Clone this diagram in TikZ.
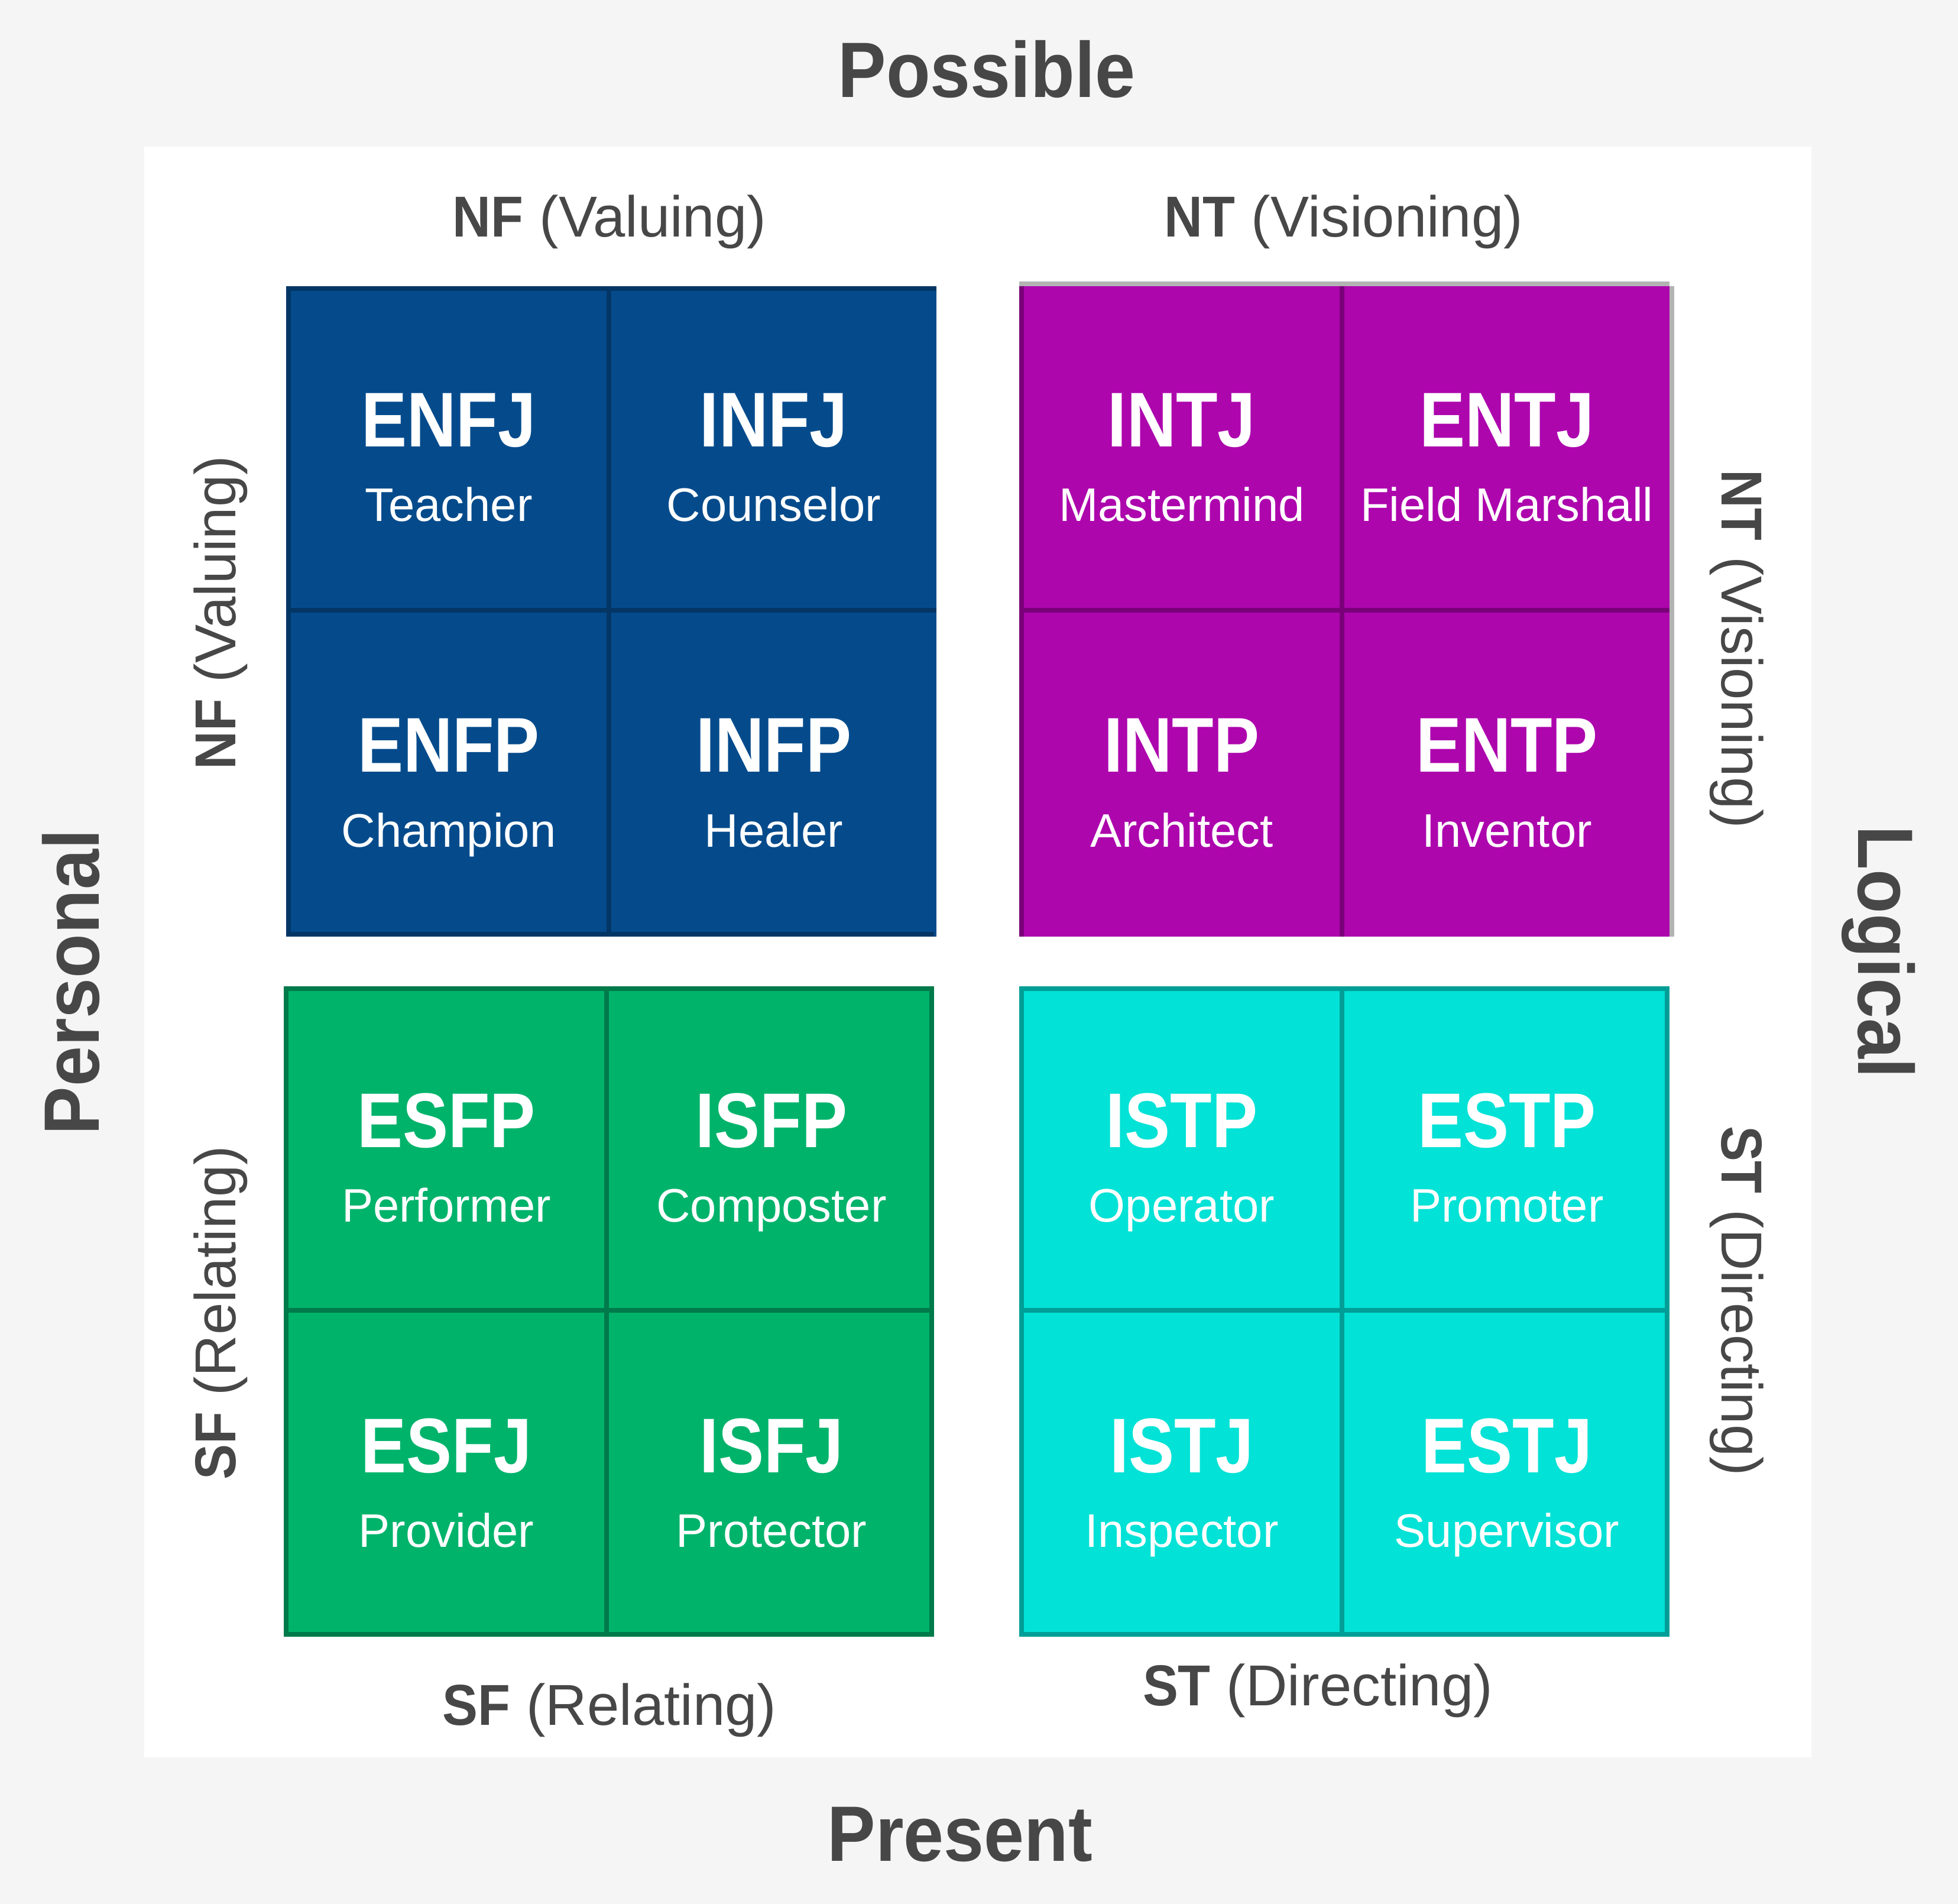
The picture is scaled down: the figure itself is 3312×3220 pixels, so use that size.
\documentclass[tikz,border=0pt]{standalone}
\usepackage{fontspec}
\setmainfont{Liberation Sans}
\newfontfamily\condf[FakeStretch=0.92]{Liberation Sans}
\newfontfamily\condtf[FakeStretch=0.88]{Liberation Sans}
\definecolor{bggray}{HTML}{F5F5F5}
\definecolor{textgray}{HTML}{474747}
\definecolor{nfblue}{HTML}{054B8C}
\definecolor{nfblueD}{HTML}{043665}
\definecolor{ntpurple}{HTML}{AD06AD}
\definecolor{ntpurpleD}{HTML}{7A007A}
\definecolor{shadowgray}{HTML}{B3B3B3}
\definecolor{sfgreen}{HTML}{00B36B}
\definecolor{sfgreenD}{HTML}{007A4A}
\definecolor{stcyan}{HTML}{02E2D6}
\definecolor{stcyanD}{HTML}{009E96}
\begin{document}
\begin{tikzpicture}[x=0.25pt,y=-0.25pt,
  bd/.style={line width=2pt},
  typelbl/.style={anchor=base,text=white,inner sep=0pt,font=\condtf\bfseries\fontsize{32.8}{36}\selectfont},
  rolelbl/.style={anchor=base,text=white,inner sep=0pt,font=\fontsize{19.9}{22}\selectfont},
  biglbl/.style={anchor=base,text=textgray,inner sep=0pt,font=\condf\bfseries\fontsize{33.2}{38}\selectfont},
  axislbl/.style={anchor=base,text=textgray,inner sep=0pt,font=\fontsize{24.4}{28}\selectfont}]
\fill[bggray] (0,0) rectangle (3312,3220);
\useasboundingbox (0,0) rectangle (3312,3220);
\fill[white] (244,248) rectangle (3064,2972);
% quadrants
\fill[nfblue] (484,484) rectangle (1584,1584);
\fill[shadowgray] (1724,476) rectangle (2824,484);
\fill[shadowgray] (2824,484) rectangle (2832,1584);
\fill[ntpurple] (1724,484) rectangle (2824,1584);
\fill[sfgreen] (480,1668) rectangle (1580,2768);
\fill[stcyan] (1724,1668) rectangle (2824,2768);
% borders and dividers
\draw[bd,nfblueD] (1584,488) -- (488,488) -- (488,1580) -- (1580,1580);
\draw[bd,nfblueD] (1030,484) -- (1030,1584);
\draw[bd,nfblueD] (484,1032) -- (1584,1032);
\draw[bd,ntpurpleD] (1728,484) -- (1728,1584);
\draw[bd,ntpurpleD] (2270,484) -- (2270,1584);
\draw[bd,ntpurpleD] (1724,1032) -- (2824,1032);
\draw[bd,sfgreenD] (484,1672) rectangle (1576,2764);
\draw[bd,sfgreenD] (1026,1668) -- (1026,2768);
\draw[bd,sfgreenD] (480,2216) -- (1580,2216);
\draw[bd,stcyanD] (1728,1672) rectangle (2820,2764);
\draw[bd,stcyanD] (2270,1668) -- (2270,2768);
\draw[bd,stcyanD] (1724,2216) -- (2824,2216);
% cell labels
\foreach \n/\t/\r/\x/\y in {
  enfj/ENFJ/Teacher/759/759, infj/INFJ/Counselor/1309/759,
  enfp/ENFP/Champion/759/1309, infp/INFP/Healer/1309/1309,
  intj/INTJ/Mastermind/1999/759, entj/ENTJ/Field Marshall/2549/759,
  intp/INTP/Architect/1999/1309, entp/ENTP/Inventor/2549/1309,
  esfp/ESFP/Performer/755/1943, isfp/ISFP/Composter/1305/1943,
  esfj/ESFJ/Provider/755/2493, isfj/ISFJ/Protector/1305/2493,
  istp/ISTP/Operator/1999/1943, estp/ESTP/Promoter/2549/1943,
  istj/ISTJ/Inspector/1999/2493, estj/ESTJ/Supervisor/2549/2493}{
  \node[typelbl] (\n) at (\x,\y-3) {\t};
  \node[rolelbl] (\n-r) at (\x,\y+123) {\r};
}
% axis labels
\node[axislbl] (nf-top) at (1031,401) {{\condf\bfseries NF} (Valuing)};
\node[axislbl] (nt-top) at (2273,401) {{\condf\bfseries NT} (Visioning)};
\node[axislbl] (sf-bot) at (1031,2917) {{\condf\bfseries SF} (Relating)};
\node[axislbl] (st-bot) at (2229,2884) {{\condf\bfseries ST} (Directing)};
\node[axislbl,rotate=90] (nf-side) at (398,1036) {{\condf\bfseries NF} (Valuing)};
\node[axislbl,rotate=90] (sf-side) at (398,2220) {{\condf\bfseries SF} (Relating)};
\node[axislbl,rotate=-90] (nt-side) at (2912,1098) {{\condf\bfseries NT} (Visioning)};
\node[axislbl,rotate=-90] (st-side) at (2912,2200) {{\condf\bfseries ST} (Directing)};
% big labels
\node[biglbl] (possible) at (1669,165) {Possible};
\node[biglbl] (present) at (1624,3147) {Present};
\node[biglbl,rotate=90] (personal) at (167,1661) {Personal};
\node[biglbl,rotate=-90] (logical) at (3143,1610) {Logical};
\end{tikzpicture}
\end{document}
